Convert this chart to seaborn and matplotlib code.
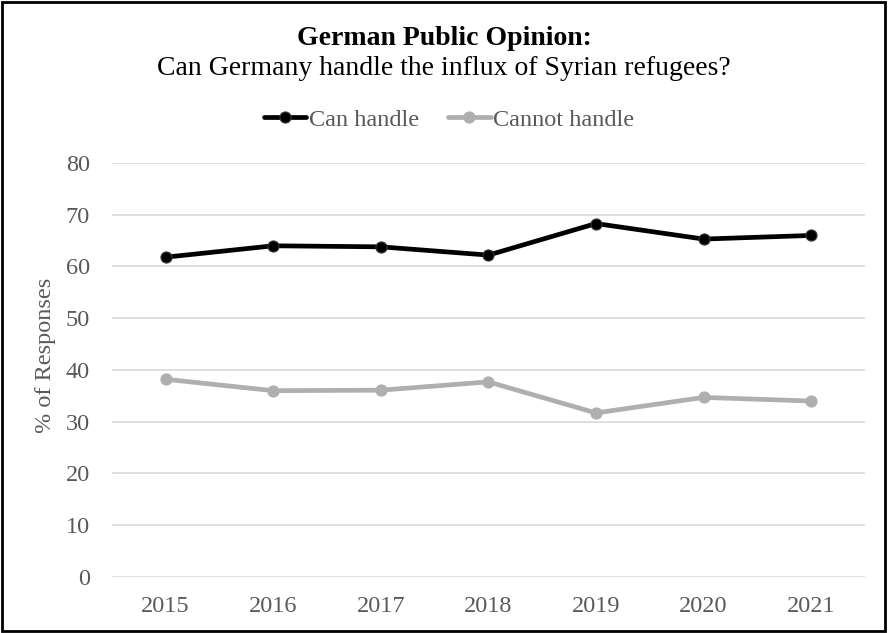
import matplotlib
matplotlib.use("Agg")
import matplotlib.pyplot as plt
import seaborn as sns
import pandas as pd
from matplotlib.patches import Rectangle
from matplotlib.lines import Line2D

years = ["2015", "2016", "2017", "2018", "2019", "2020", "2021"]
can_handle = [61.8, 64.0, 63.8, 62.2, 68.3, 65.3, 66.0]
cannot_handle = [38.2, 36.0, 36.1, 37.7, 31.7, 34.7, 34.0]
series_names = ["Can handle", "Cannot handle"]
y_ticks = [0, 10, 20, 30, 40, 50, 60, 70, 80]

sns.set_theme(style="white")
plt.rcParams["font.family"] = ["Liberation Serif", "DejaVu Serif"]

df = pd.DataFrame({
    "Year": years * 2,
    "Value": can_handle + cannot_handle,
    "Series": [series_names[0]] * len(years) + [series_names[1]] * len(years),
})

colors = {"Can handle": "#000000", "Cannot handle": "#afafaf"}
edge = {"Can handle": "#3a3a3a", "Cannot handle": "#afafaf"}
LW = 3.4
MS = 8

fig = plt.figure(figsize=(8.88, 6.33), dpi=100)
ax = fig.add_axes([0.126, 0.0885, 0.848, 0.654])

for name in series_names:
    sub = df[df["Series"] == name]
    sns.lineplot(data=sub, x="Year", y="Value", ax=ax, color=colors[name],
                 linewidth=LW, marker="o", markersize=MS,
                 markeredgecolor=edge[name], markeredgewidth=0.8,
                 sort=False, legend=False, zorder=3)

ax.set_xlim(-0.5, len(years) - 0.5)
ax.set_ylim(0, 80)
ax.set_yticks(y_ticks)
ax.grid(axis="y", color="#d9d9d9", linewidth=1.2)
ax.grid(axis="x", visible=False)
for s in ax.spines.values():
    s.set_visible(False)
ax.tick_params(axis="both", length=0, labelsize=17.5, colors="#595959")
ax.tick_params(axis="y", pad=16)
ax.tick_params(axis="x", pad=13.5)
ax.set_xlabel("")
ax.set_ylabel("")

fig.text(45 / 888, 1 - 355 / 633, "% of Responses", rotation=90,
         ha="center", va="center", fontsize=17.5, color="#595959")

fig.text(0.5, 1 - 45 / 633, "German Public Opinion:", ha="center", va="baseline",
         fontsize=20, fontweight="bold", color="#000000")
fig.text(0.5, 1 - 75 / 633, "Can Germany handle the influx of Syrian refugees?",
         ha="center", va="baseline", fontsize=20, color="#000000")

handles = [
    Line2D([0], [0], color=colors[n], linewidth=LW, marker="o", markersize=MS,
           markeredgecolor=edge[n], markeredgewidth=0.8)
    for n in series_names
]
leg = fig.legend(handles, series_names, loc="center",
                 bbox_to_anchor=(449 / 888, 1 - 120 / 633),
                 ncol=2, frameon=False, fontsize=17.5, handlelength=1.75,
                 handletextpad=0.1, columnspacing=1.2, borderpad=0)
for t in leg.get_texts():
    t.set_color("#595959")

fig.patches.append(Rectangle((0.002, 0.003), 0.995, 0.994, transform=fig.transFigure,
                             fill=False, edgecolor="#000000", linewidth=2.0))

fig.savefig("out.png", dpi=100, facecolor="white")
